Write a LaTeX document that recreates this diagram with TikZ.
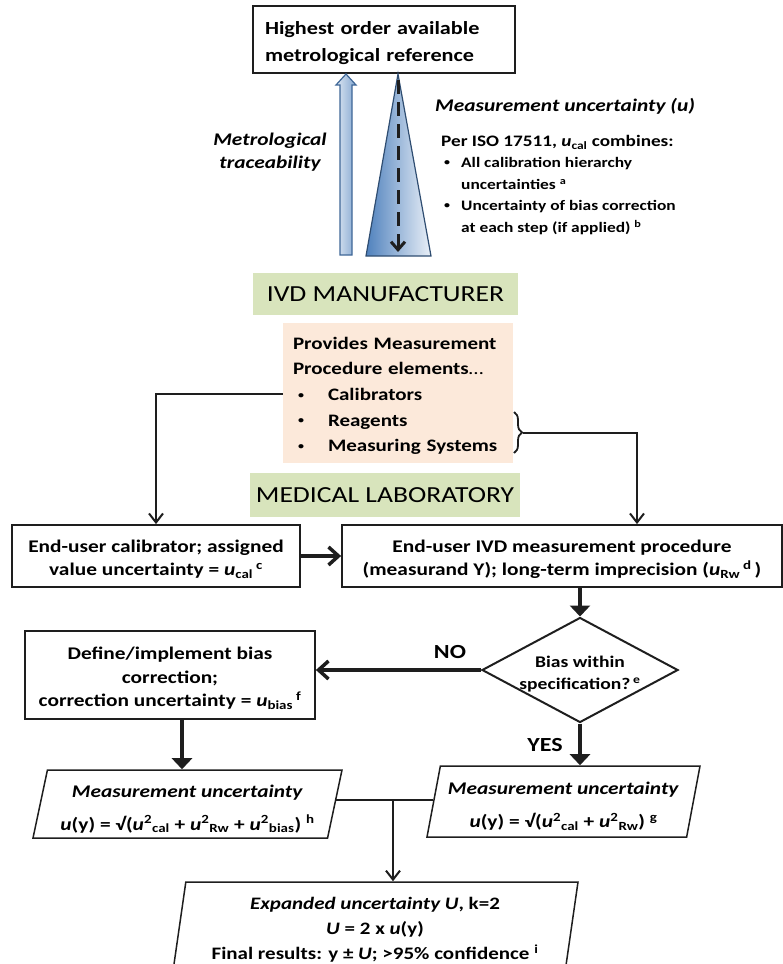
\documentclass[tikz,border=0pt]{standalone}
\usepackage{fontspec}
\setmainfont{Carlito}[FakeStretch=1.2]
\usetikzlibrary{arrows.meta,shapes.geometric,decorations.pathreplacing,positioning,calc}
\definecolor{bannergreen}{HTML}{D8E4BC}
\definecolor{peach}{HTML}{FCE9DA}
\definecolor{traceblue}{HTML}{4F81BD}
\definecolor{paleblue}{HTML}{DCE6F2}
\definecolor{lineblk}{HTML}{1E1E1E}
\newcommand{\dotitem}{{\fontsize{10}{10}\selectfont\raisebox{2.5pt}{\textbullet}}}
\newcommand{\lowstrut}[1]{\rule{0pt}{#1}}

\begin{document}
\begin{tikzpicture}[x=1pt, y=-1pt,
  box/.style={rectangle, draw=lineblk, line width=1.8pt, align=center, inner sep=0pt, font=\bfseries\fontsize{17.8}{23.5}\selectfont},
  banner/.style={rectangle, fill=bannergreen, inner sep=0pt, font=\fontsize{23}{28}\selectfont},
  para/.style={trapezium, draw=lineblk, line width=1.5pt, trapezium stretches body, inner sep=0pt, align=center, font=\bfseries\fontsize{17.8}{33}\selectfont},
  linkarrow/.style={-{Straight Barb[length=9pt,width=14pt]}, line width=2pt, draw=lineblk},
  flowarrow/.style={-{Straight Barb[length=10pt,width=18pt]}, line width=3.5pt, draw=lineblk},
  downarrow/.style={-{Triangle[length=11pt,width=20pt]}, line width=3.5pt, draw=lineblk}
]
  \useasboundingbox (0,0) rectangle (782,964);

  \node[box, minimum width=262pt, minimum height=67pt, text width=238pt, align=left, font=\bfseries\fontsize{18.5}{27}\selectfont] (topref) at (384,39.5) {\lowstrut{21pt}Highest order available\\metrological reference};
  \draw[draw=traceblue!80!black, line width=1.2pt, left color=paleblue, right color=traceblue!70] (340,255) -- (340,85) -- (336,85) -- (346,74) -- (356,85) -- (352,85) -- (352,255) -- cycle;
  \draw[draw=traceblue!60!black, line width=1.2pt, left color=traceblue, right color=paleblue!60] (398,74) -- (431,256) -- (366,256) -- cycle;
  \draw[line width=3pt, dash pattern=on 14pt off 8pt, -{Straight Barb[length=8pt,width=14pt]}, draw=lineblk] (398,80) -- (398,252);

  \node[font=\bfseries\itshape\fontsize{17.8}{23}\selectfont, align=center] (tracelabel) at (270,152) {Metrological\\traceability};
  \node[anchor=west, inner sep=0pt, font=\bfseries\itshape\fontsize{17.8}{22}\selectfont] (uhead) at (435,106) {Measurement uncertainty (\textit{u})};
  \node[anchor=north west, inner sep=0pt, align=left, font=\bfseries\fontsize{14.5}{21.5}\selectfont] (isolist) at (441,135) {%
    {\fontsize{16}{20}\selectfont Per ISO 17511, \textit{u}\textsubscript{cal} combines:}\\
    \hspace*{3pt}\makebox[17pt][l]{\dotitem}All calibration hierarchy\\
    \hspace*{20pt}uncertainties \textsuperscript{a}\\
    \hspace*{3pt}\makebox[17pt][l]{\dotitem}Uncertainty of bias correction\\
    \hspace*{20pt}at each step (if applied) \textsuperscript{b}};

  \node[banner, minimum width=265pt, minimum height=42pt] (maker) at (385.5,294) {IVD MANUFACTURER};
  \node[rectangle, fill=peach, minimum width=230pt, minimum height=140pt, text width=210pt, align=left, inner sep=0pt, font=\bfseries\fontsize{17.5}{25.7}\selectfont] (elements) at (398,393) {\lowstrut{18pt}Provides Measurement\\Procedure elements{\mdseries\ldots}\\
    \hspace*{5pt}\makebox[30pt][l]{\dotitem}Calibrators\\
    \hspace*{5pt}\makebox[30pt][l]{\dotitem}Reagents\\
    \hspace*{5pt}\makebox[30pt][l]{\dotitem}Measuring Systems};
  \coordinate (bracetop) at (514,412);
  \coordinate (bracebot) at (514,453);
  \coordinate (bracetip) at (523,432.5);
  \draw[decorate, decoration={brace, amplitude=8pt}, line width=1.8pt, draw=lineblk] (bracetop) -- (bracebot);
  \node[banner, minimum width=270pt, minimum height=44pt] (lab) at (385,495) {MEDICAL LABORATORY};

  \node[box, minimum width=288pt, minimum height=62pt] (calbox) at (156,556) {\lowstrut{19pt}End-user calibrator; assigned\\value uncertainty = \textit{u}\textsubscript{cal}\,\textsuperscript{c}};
  \node[box, minimum width=440pt, minimum height=62pt] (procbox) at (562,556) {\lowstrut{19pt}End-user IVD measurement procedure\\(measurand Y); long-term imprecision (\textit{u}\textsubscript{Rw}\,\textsuperscript{d}\,)};
  \node[diamond, draw=lineblk, line width=2pt, minimum width=196pt, minimum height=105pt, inner sep=0pt, aspect=1.87,
    label={[font=\bfseries\fontsize{16.3}{22}\selectfont, align=center]center:\lowstrut{20pt}Bias within\\specification?\,\textsuperscript{e}}] (biascheck) at (580,670) {};
  \node[box, minimum width=290pt, minimum height=88pt] (biasbox) at (170,675) {\lowstrut{19pt}Define/implement bias\\correction;\\correction uncertainty = \textit{u}\textsubscript{bias}\,\textsuperscript{f}};
  \node[font=\bfseries\fontsize{20}{22}\selectfont] (nolabel) at (450,652) {NO};
  \node[font=\bfseries\fontsize{20}{22}\selectfont] (yeslabel) at (545,745) {YES};

  \node[para, minimum width=309pt, minimum height=68pt, trapezium left angle=76, trapezium right angle=104] (leftpara) at (187.5,804) {\lowstrut{22pt}\textit{Measurement uncertainty}\\\textit{u}(y) = √(\textit{u}\textsuperscript{2}\textsubscript{cal} + \textit{u}\textsuperscript{2}\textsubscript{Rw} + \textit{u}\textsuperscript{2}\textsubscript{bias}) \textsuperscript{h}};
  \node[para, minimum width=273pt, minimum height=71pt, trapezium left angle=77, trapezium right angle=103] (rightpara) at (563.5,801.5) {\lowstrut{22pt}\textit{Measurement uncertainty}\\\textit{u}(y) = √(\textit{u}\textsuperscript{2}\textsubscript{cal} + \textit{u}\textsuperscript{2}\textsubscript{Rw}) \textsuperscript{g}};
  \node[para, minimum width=406pt, minimum height=96pt, trapezium left angle=78, trapezium right angle=102, font=\bfseries\fontsize{17.5}{25}\selectfont] (finalpara) at (375,930) {\textit{Expanded uncertainty U}, k=2\\\textit{U} = 2 x \textit{u}(y)\\Final results: y ± \textit{U}; >95\% confidence \textsuperscript{i}};

  \draw[linkarrow] ([yshift=-1pt]elements.west) -| (calbox.north);
  \draw[linkarrow] (bracetip) -| ([xshift=75pt]procbox.north);
  \draw[flowarrow] (calbox) -- (procbox);
  \draw[downarrow] (biascheck.north |- procbox.south) -- (biascheck.north);
  \draw[flowarrow] (biascheck.west) -- (biascheck.west -| biasbox.east);
  \draw[downarrow] ([xshift=12pt]biasbox.south) -- ([xshift=12pt]biasbox.south |- leftpara.north);
  \draw[downarrow] (biascheck.south) -- (biascheck.south |- rightpara.north);
  \coordinate (join) at (393,800);
  \draw[line width=2.5pt, draw=lineblk] (leftpara.east |- join) -- (rightpara.west |- join);
  \draw[linkarrow] (join) -- (join |- finalpara.north);
\end{tikzpicture}
\end{document}
